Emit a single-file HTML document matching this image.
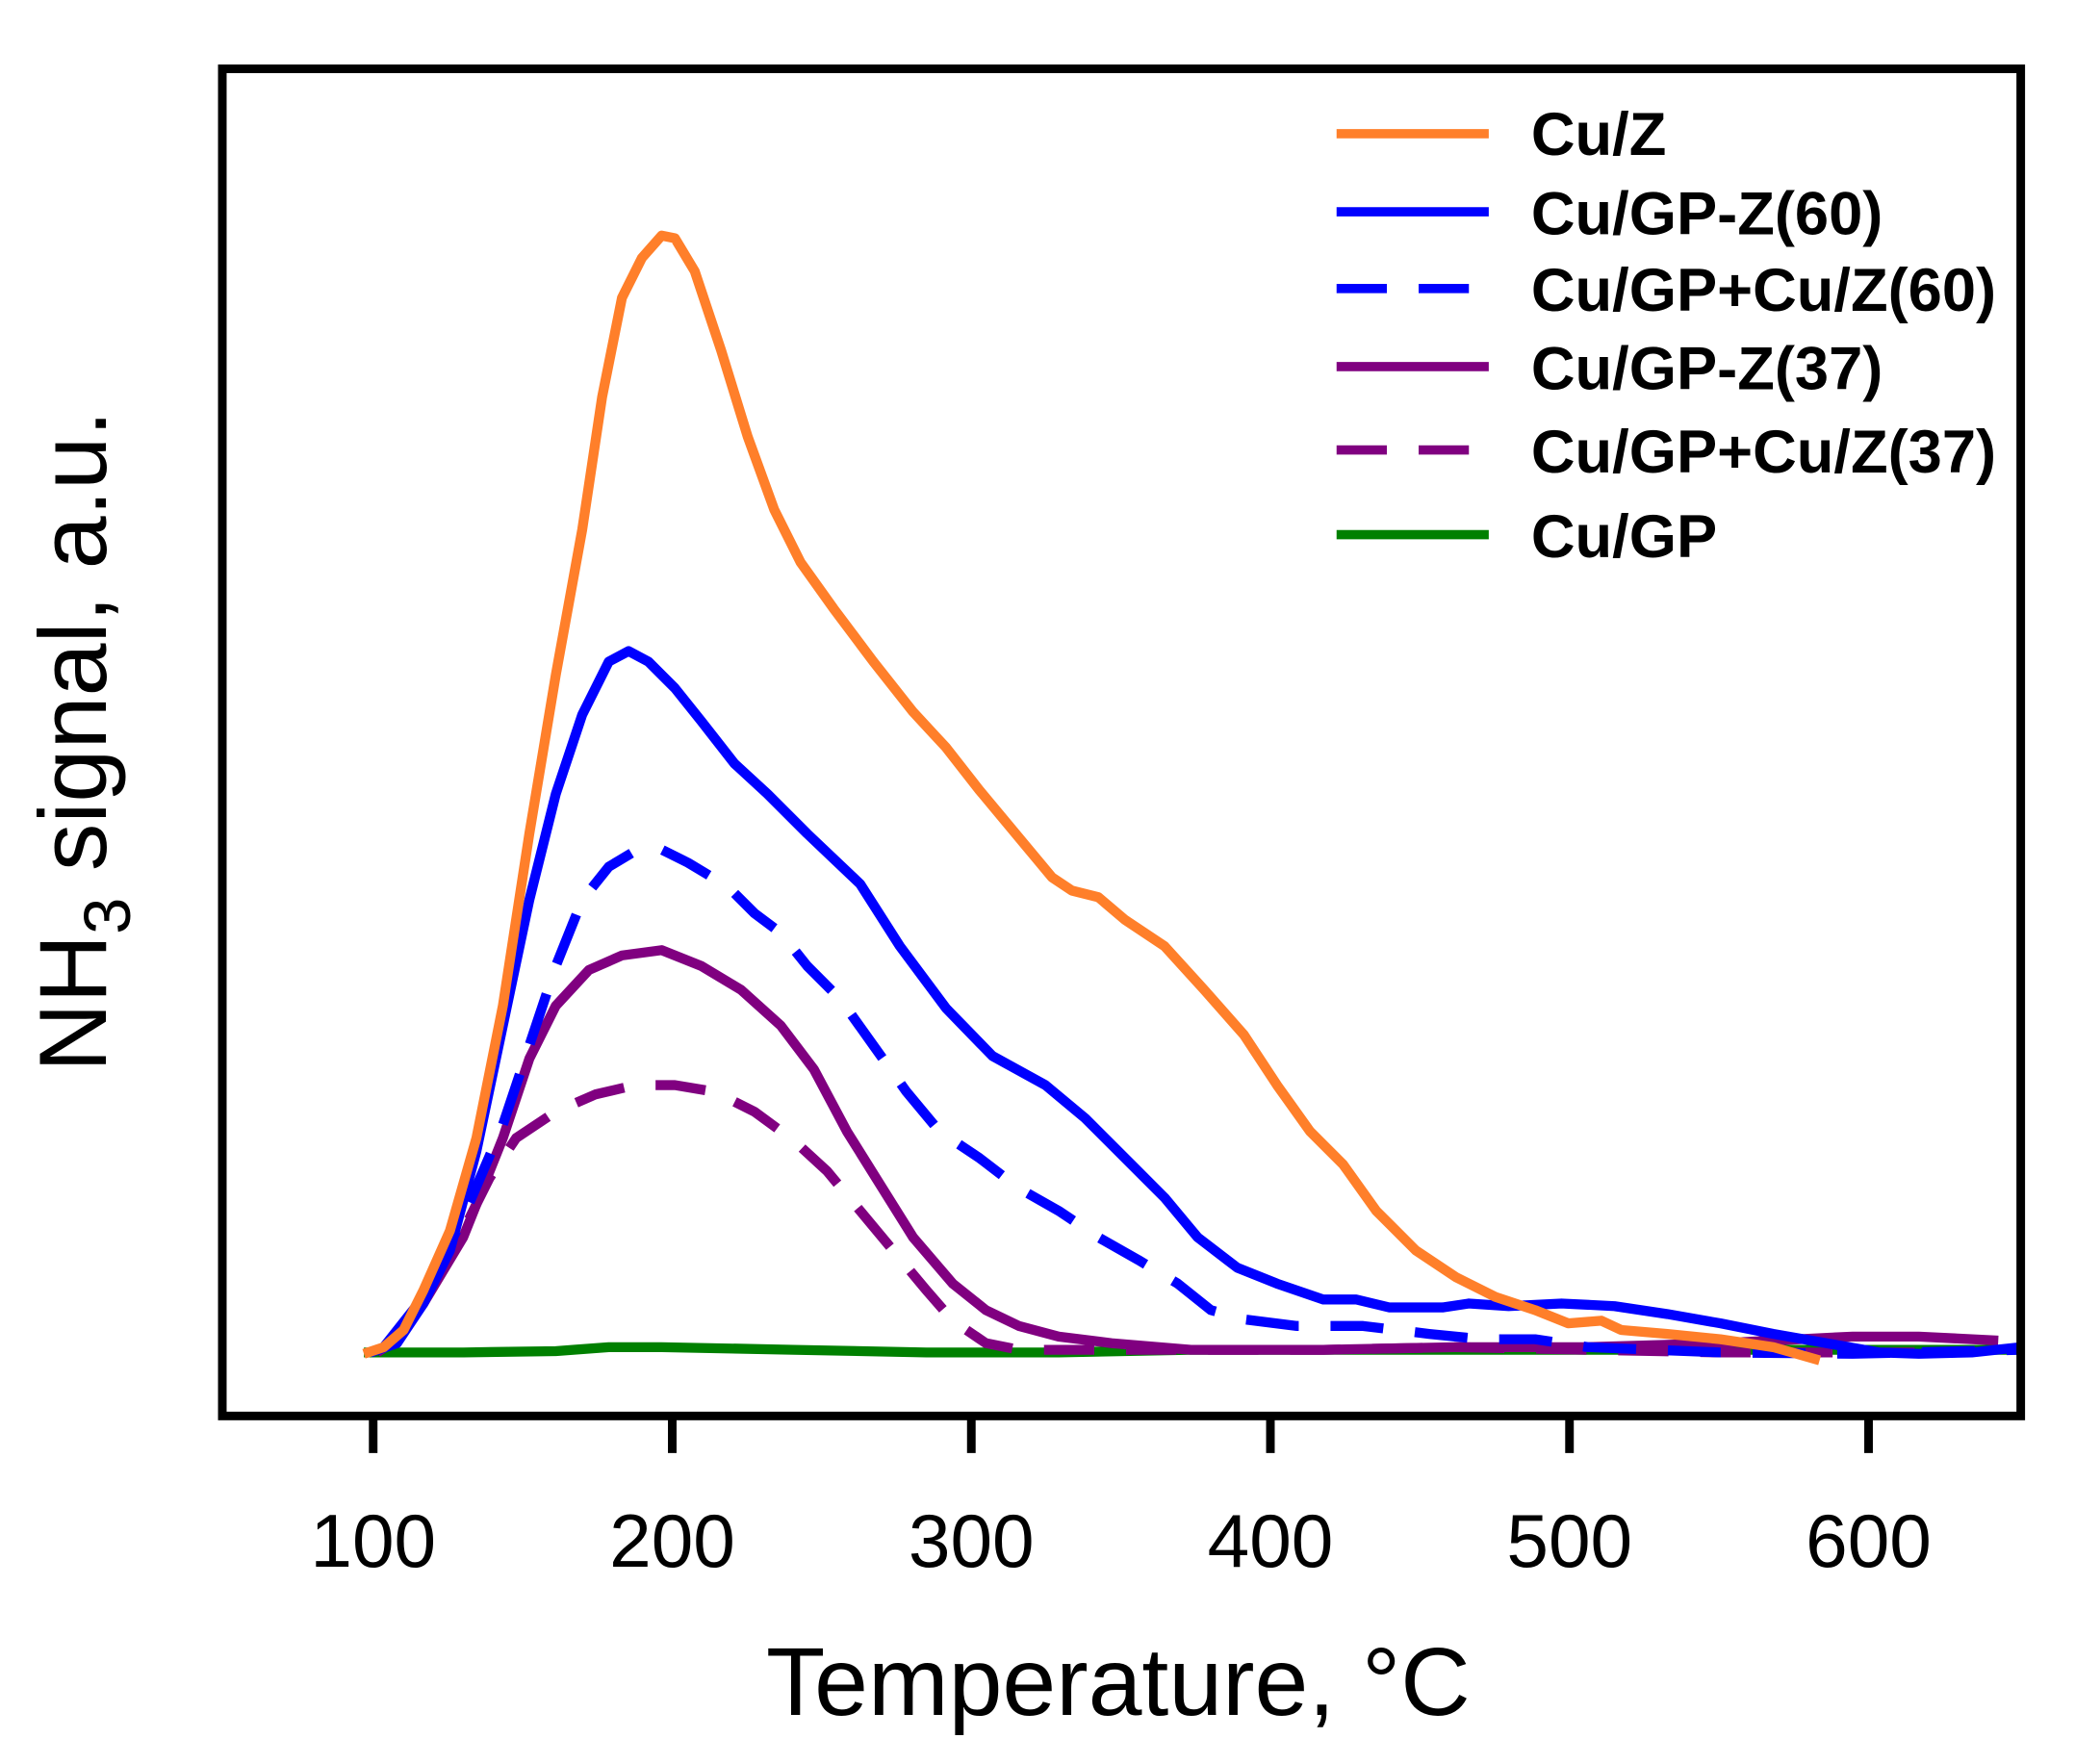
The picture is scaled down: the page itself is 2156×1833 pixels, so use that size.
<!DOCTYPE html>
<html><head><meta charset="utf-8"><style>
html,body{margin:0;padding:0;background:#fff;}
svg{display:block;}
</style></head><body>
<svg width="2156" height="1833" viewBox="0 0 1568 1333" preserveAspectRatio="none" xmlns="http://www.w3.org/2000/svg">
<rect width="1568" height="1333" fill="#fff"/>
<g fill="none" stroke-width="7.5" stroke-linejoin="round" stroke-linecap="butt">
<polyline stroke="#008000" points="275,1022 350,1022 420,1021 460,1018 500,1018 600,1020 700,1022 800,1022 900,1020 1000,1020 1200,1020 1527,1020"/>
<polyline stroke="#800080" stroke-dasharray="38,24" points="285,1022 300,1012 320,985 350,930 370,890 390,860 420,840 450,827 480,820 510,820 540,825 570,840 600,862 625,885 650,915 675,945 700,975 720,998 745,1015 770,1020 900,1020 1000,1020 1100,1018 1200,1020 1300,1022 1450,1022"/>
<polyline stroke="#800080" points="285,1022 300,1010 320,985 350,935 380,860 400,800 420,760 445,733 470,722 500,718 530,730 560,748 590,775 615,808 640,855 665,895 690,935 720,970 745,990 770,1002 800,1010 840,1015 900,1020 1000,1020 1100,1018 1200,1018 1300,1015 1400,1010 1450,1010 1510,1013"/>
<polyline stroke="#0000ff" stroke-dasharray="40,24" points="290,1018 320,980 350,920 380,850 400,790 420,730 440,680 460,655 480,643 500,642 520,652 550,670 570,690 590,705 610,730 635,755 660,790 685,825 710,855 740,875 770,898 800,915 830,935 860,952 890,970 915,990 940,997 980,1002 1030,1002 1080,1008 1120,1012 1160,1012 1200,1018 1250,1020 1300,1022 1400,1023 1527,1020"/>
<polyline stroke="#0000ff" points="280,1022 300,1015 320,985 340,945 360,870 380,775 400,680 420,600 440,540 460,500 475,492 490,500 510,520 530,545 555,577 580,600 610,630 650,668 680,715 715,762 750,798 790,820 820,845 855,880 880,905 905,935 935,958 965,970 1000,982 1025,982 1050,988 1090,988 1110,985 1140,987 1180,985 1220,987 1260,993 1300,1000 1340,1008 1380,1015 1420,1022 1450,1023 1490,1022 1527,1018"/>
<polyline stroke="#ff7f2a" points="275,1023 290,1018 305,1005 320,975 340,930 360,860 380,760 400,630 420,510 440,400 455,300 470,225 485,195 500,178 510,180 525,205 545,265 565,330 585,385 605,425 630,460 660,500 690,538 715,565 740,597 770,633 795,663 810,673 830,678 850,695 880,715 910,748 940,782 965,820 990,855 1015,880 1040,915 1070,945 1100,965 1130,980 1160,990 1185,1000 1210,998 1225,1005 1260,1008 1300,1012 1340,1018 1375,1028"/>
</g>
<g stroke="#000" stroke-width="6.5" fill="none">
<rect x="168" y="52" width="1359" height="1018"/>
<line x1="282" y1="1070" x2="282" y2="1098"/>
<line x1="508" y1="1070" x2="508" y2="1098"/>
<line x1="734" y1="1070" x2="734" y2="1098"/>
<line x1="960" y1="1070" x2="960" y2="1098"/>
<line x1="1186" y1="1070" x2="1186" y2="1098"/>
<line x1="1412" y1="1070" x2="1412" y2="1098"/>
</g>
<g font-family="Liberation Sans, Arial, sans-serif" font-size="57" text-anchor="middle" fill="#000">
<text x="282" y="1184">100</text>
<text x="508" y="1184">200</text>
<text x="734" y="1184">300</text>
<text x="960" y="1184">400</text>
<text x="1186" y="1184">500</text>
<text x="1412" y="1184">600</text>
</g>
<text x="845" y="1296" font-family="Liberation Sans, Arial, sans-serif" font-size="73" text-anchor="middle">Temperature, °C</text>
<text transform="translate(80,560) rotate(-90)" font-family="Liberation Sans, Arial, sans-serif" font-size="72" text-anchor="middle">NH<tspan font-size="50" dy="18">3</tspan><tspan dy="-18"> signal, a.u.</tspan></text>
<g stroke-width="7">
<line x1="1010" y1="101" x2="1125" y2="101" stroke="#ff7f2a"/>
<line x1="1010" y1="160" x2="1125" y2="160" stroke="#0000ff"/>
<line x1="1010" y1="218" x2="1125" y2="218" stroke="#0000ff" stroke-dasharray="38,24"/>
<line x1="1010" y1="277" x2="1125" y2="277" stroke="#800080"/>
<line x1="1010" y1="340" x2="1125" y2="340" stroke="#800080" stroke-dasharray="38,24"/>
<line x1="1010" y1="404" x2="1125" y2="404" stroke="#008000"/>
</g>
<g font-family="Liberation Sans, Arial, sans-serif" font-size="46" font-weight="bold" fill="#000">
<text x="1157" y="117">Cu/Z</text>
<text x="1157" y="177">Cu/GP-Z(60)</text>
<text x="1157" y="235">Cu/GP+Cu/Z(60)</text>
<text x="1157" y="294">Cu/GP-Z(37)</text>
<text x="1157" y="357">Cu/GP+Cu/Z(37)</text>
<text x="1157" y="421">Cu/GP</text>
</g>
</svg>
</body></html>
